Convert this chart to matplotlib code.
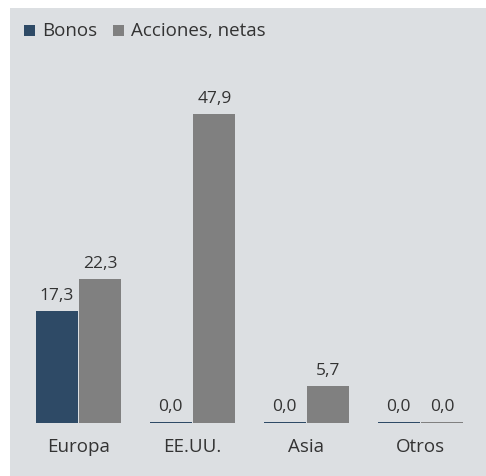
import numpy as np
import matplotlib.pyplot as plt
from matplotlib.patches import Rectangle

plt.rcParams['font.family'] = ['Open Sans', 'DejaVu Sans']

regions = ['Europa', 'EE.UU.', 'Asia', 'Otros']
bonos = [17.3, 0.0, 0.0, 0.0]
acciones = [22.3, 47.9, 5.7, 0.0]

c_bonos = '#2e4a66'
c_acc = '#808080'
bg = '#dcdfe2'
txt = '#333333'

W, H = 486, 476
fig = plt.figure(figsize=(W / 100, H / 100), dpi=100)

# axes covers the grey panel; map data units to pixels
ax = fig.add_axes([10 / W, 0, 1 - 10 / W, 1 - 8 / H])
ax.set_facecolor(bg)
px_per_grp = 114.0
px_per_unit = 6.45
x0_px, base_px = 78.5, 423
ax.set_xlim(-(x0_px - 10) / px_per_grp, (W - x0_px) / px_per_grp)
ax.set_ylim(-(H - base_px) / px_per_unit, (base_px - 8) / px_per_unit)
for s in ax.spines.values():
    s.set_visible(False)
ax.set_xticks([])
ax.set_yticks([])

x = np.arange(len(regions))
w = 0.37
gap = 0.006
min_h = 1.0 / px_per_unit
for xs, vals, col in [(x - w / 2 - gap, bonos, c_bonos), (x + w / 2 + gap, acciones, c_acc)]:
    hs = [v if v > 0 else min_h for v in vals]
    ax.bar(xs, hs, width=w, color=col, linewidth=0)
    for xi, v, h in zip(xs, vals, hs):
        ax.text(xi, h + 7 / px_per_unit, f'{v:.1f}'.replace('.', ','), ha='center',
                va='bottom', fontsize=12.5, color=txt)

for xi, r in zip(x, regions):
    ax.text(xi, -24 / px_per_unit, r, ha='center', va='center', fontsize=13.5, color=txt)

# legend
for lx, label, col in [(24, 'Bonos', c_bonos), (113, 'Acciones, netas', c_acc)]:
    fig.patches.append(Rectangle((lx / W, 1 - 36 / H), 11 / W, 11 / H, transform=fig.transFigure,
                                 facecolor=col, edgecolor='none', zorder=5))
    fig.text((lx + 18) / W, 1 - 31 / H, label, ha='left', va='center', fontsize=13.5,
             color=txt, zorder=5)

fig.savefig('out.png', dpi=100, facecolor='white')
